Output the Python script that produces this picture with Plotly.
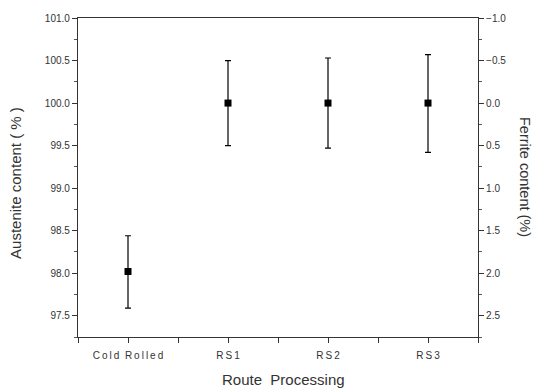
import plotly.graph_objects as go

categories = ["Cold Rolled", "RS1", "RS2", "RS3"]
austenite = [98.02, 100.0, 100.0, 100.0]
err_plus = [0.42, 0.50, 0.53, 0.57]
err_minus = [0.43, 0.50, 0.53, 0.58]
ferrite = [100 - a for a in austenite]

xpos = [0.5, 1.5, 2.5, 3.5]
tickvals = [0, 0.5, 1, 1.5, 2, 2.5, 3, 3.5, 4]
sp = "\u2009"
def spaced(s):
    return "\u00a0\u00a0".join(sp.join(w) for w in s.split(" "))
ticktext = [""]
for c in categories:
    ticktext += [spaced(c), ""]

FONT = "Arial, Liberation Sans, sans-serif"

fig = go.Figure()
fig.add_trace(go.Scatter(
    x=xpos, y=austenite, mode="markers",
    marker=dict(symbol="square", size=7, color="black"),
    error_y=dict(type="data", symmetric=False, array=err_plus, arrayminus=err_minus,
                 color="black", thickness=1.2, width=3),
    showlegend=False, hoverinfo="skip"))
fig.add_trace(go.Scatter(
    x=xpos, y=ferrite, mode="markers", yaxis="y2",
    marker=dict(opacity=0), showlegend=False, hoverinfo="skip"))

axis_font = dict(family=FONT, size=10, color="#333")
fig.update_layout(
    width=533, height=390,
    margin=dict(l=78, r=55, t=14, b=53),
    paper_bgcolor="white", plot_bgcolor="white",
    xaxis=dict(range=[0, 4], tickvals=tickvals, ticktext=ticktext,
               ticks="outside", ticklen=5, tickcolor="#333", ticklabelstandoff=4,
               showline=True, linecolor="#333", linewidth=1.2, mirror=True,
               showgrid=False, zeroline=False, tickfont=axis_font),
    yaxis=dict(range=[97.25, 101.0], dtick=0.5, tick0=97.5, tickformat=".1f",
               ticks="outside", ticklen=5, tickcolor="#333",
               minor=dict(ticks="outside", dtick=0.25, tick0=97.25, ticklen=3, tickcolor="#555"),
               showline=True, linecolor="#333", linewidth=1.2,
               showgrid=False, zeroline=False, tickfont=axis_font),
    yaxis2=dict(overlaying="y", side="right", range=[2.75, -1.0], dtick=0.5, tick0=-1.0,
                tickformat=".1f",
                ticks="outside", ticklen=5, tickcolor="#333",
                minor=dict(ticks="outside", dtick=0.25, ticklen=3, tickcolor="#555"),
                showline=True, linecolor="#333", linewidth=1.2,
                showgrid=False, zeroline=False, tickfont=axis_font),
)

w, h = 533 - 78 - 55, 390 - 14 - 53
def px(x, y):
    return (x - 78) / w, (390 - 53 - y) / h

title_font = dict(family=FONT, size=15, color="#333")
ax, ay = px(16, 181)
bx, by = px(283, 380)
cx, cy = px(525, 175)
common = dict(xref="paper", yref="paper", showarrow=False, xanchor="center", yanchor="middle")
fig.add_annotation(text="Austenite content ( % )", textangle=-90, x=ax, y=ay,
                   font=title_font, **common)
fig.add_annotation(text="Route  Processing", x=bx, y=by, font=title_font, **common)
fig.add_annotation(text="Ferrite content (%)", textangle=90, x=cx, y=cy,
                   font=dict(family=FONT, size=14.5, color="#333"), **common)
fig.write_html("out.html")
